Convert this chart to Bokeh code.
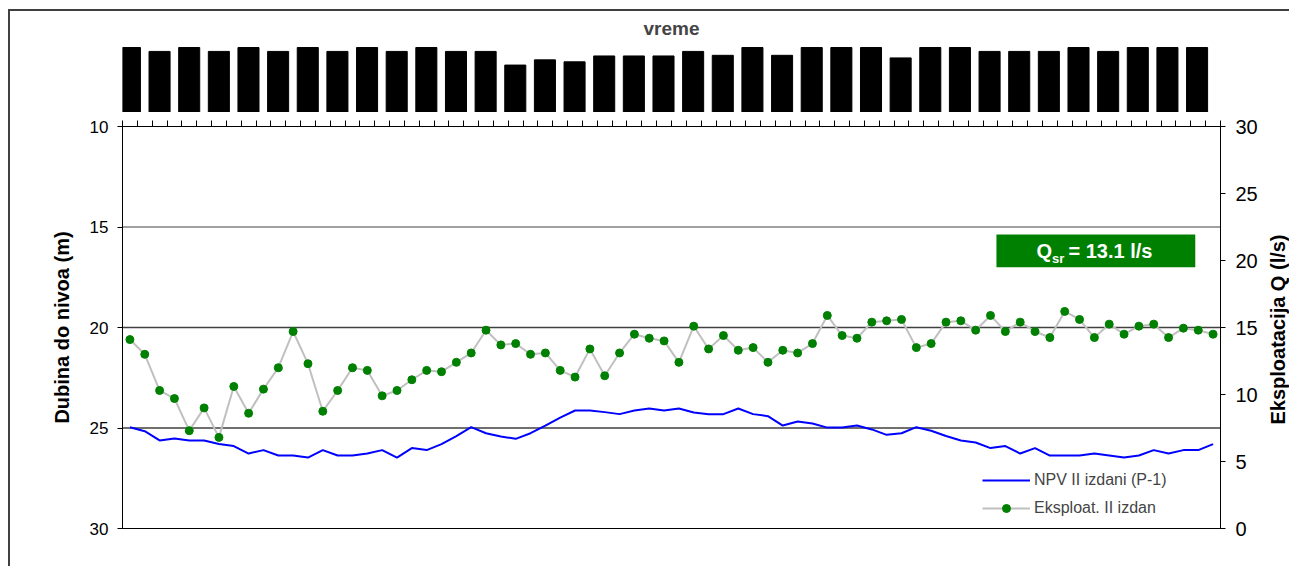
import math
from bokeh.plotting import figure
from bokeh.models import (Range1d, LinearAxis, FixedTicker, Legend, LegendItem,
                          BoxAnnotation, Label, Span, ColumnDataSource)
from bokeh.layouts import column, row
from bokeh.embed import file_html
from bokeh.resources import INLINE
from bokeh.core.properties import value

# ---------------- data ----------------
vreme = [10, 9.4, 10, 9.4, 10, 9.4, 10, 9.4, 10, 9.4, 10, 9.4, 9.4, 7.3, 8.1, 7.8,
         8.7, 8.7, 8.7, 9.4, 8.8, 10, 8.8, 10, 10, 10, 8.4, 10, 10, 9.4, 9.4, 9.4,
         10, 9.4, 10, 10, 10]

npv = [24.96, 25.16, 25.62, 25.52, 25.62, 25.62, 25.80, 25.90, 26.27, 26.10,
       26.37, 26.37, 26.47, 26.10, 26.37, 26.37, 26.27, 26.10, 26.47, 26.00,
       26.10, 25.80, 25.40, 24.96, 25.26, 25.42, 25.54, 25.26, 24.88, 24.48,
       24.13, 24.13, 24.21, 24.31, 24.13, 24.03, 24.13, 24.03, 24.23, 24.31,
       24.31, 24.03, 24.31, 24.41, 24.88, 24.68, 24.78, 24.98, 24.98, 24.88,
       25.07, 25.34, 25.26, 24.96, 25.14, 25.40, 25.62, 25.72, 26.00, 25.90,
       26.27, 26.00, 26.37, 26.37, 26.37, 26.27, 26.37, 26.47, 26.37, 26.10,
       26.27, 26.10, 26.10, 25.80]

q = [14.1, 13.0, 10.3, 9.7, 7.3, 9.0, 6.8, 10.6, 8.6, 10.4,
     12.0, 14.7, 12.3, 8.75, 10.3, 12.0, 11.8, 9.9, 10.3, 11.1,
     11.8, 11.7, 12.4, 13.1, 14.8, 13.7, 13.8, 13.0, 13.1, 11.8,
     11.3, 13.4, 11.4, 13.1, 14.5, 14.2, 14.0, 12.4, 15.1, 13.4,
     14.4, 13.3, 13.5, 12.4, 13.3, 13.1, 13.8, 15.9, 14.4, 14.2,
     15.4, 15.5, 15.6, 13.5, 13.8, 15.4, 15.5, 14.8, 15.9, 14.7,
     15.4, 14.7, 14.25, 16.2, 15.6, 14.25, 15.25, 14.5, 15.1, 15.25,
     14.25, 14.95, 14.8, 14.5]

left_ticks = [10, 15, 20, 25, 30]
right_ticks = [0, 5, 10, 15, 20, 25, 30]
q_sr_text = "= 13.1 l/s"
right_title = "Eksploatacija Q (l/s)"

FONT = "Liberation Sans"
n = len(q)
xs = [i + 0.5 for i in range(n)]
xb = [i + 0.5 for i in range(len(vreme))]

W = 1264
RB = 44
SIDE_W = 25

# ---------------- top panel (vreme) ----------------
top = figure(width=W, height=112, x_range=Range1d(0.25, 37.29),
             y_range=Range1d(0, 11.08), output_backend="svg", toolbar_location=None,
             x_axis_location=None, y_axis_location=None,
             min_border_left=122, min_border_right=RB, min_border_top=40,
             min_border_bottom=0, title="vreme")
top.grid.visible = False
top.outline_line_color = None
top.border_fill_color = None
top.title.align = "center"
top.title.text_font = FONT
top.title.text_font_size = "19px"
top.title.text_font_style = "bold"
top.title.standoff = 4
top.vbar(x=xb, top=vreme, width=0.71, bottom=0, color="black")

# ---------------- main plot ----------------
p = figure(width=W, height=454, x_range=Range1d(0, n), y_range=Range1d(30, 10),
           output_backend="svg", toolbar_location=None,
           x_axis_location="above", y_axis_location="left",
           min_border_left=122, min_border_right=RB, min_border_top=14,
           min_border_bottom=38)
p.border_fill_color = None
p.grid.visible = False
p.outline_line_color = "black"
p.outline_line_width = 1

xa = p.xaxis[0]
xa.ticker = FixedTicker(ticks=[], minor_ticks=list(range(0, n + 1)))
xa.major_tick_out = 6
xa.major_tick_in = 0
xa.minor_tick_out = 6
xa.minor_tick_in = 0
xa.minor_tick_line_color = "black"
xa.major_label_standoff = 0
xa.axis_line_color = "black"

ya = p.yaxis[0]
ya.ticker = FixedTicker(ticks=left_ticks)
ya.major_tick_out = 5
ya.major_tick_in = 0
ya.minor_tick_out = 0
ya.major_label_text_font = FONT
ya.major_label_text_font_size = "17px"
ya.major_label_text_color = "black"
ya.major_label_standoff = 9
ya.axis_label = "Dubina do nivoa (m)"
ya.axis_label_text_font = FONT
ya.axis_label_text_font_size = "20px"
ya.axis_label_text_font_style = "bold"
ya.axis_label_text_color = "black"
ya.axis_label_standoff = 14
ya.axis_line_color = "black"

p.extra_y_ranges = {"q": Range1d(0, 30)}
ra = LinearAxis(y_range_name="q", ticker=FixedTicker(ticks=right_ticks))
ra.major_tick_out = 5
ra.major_tick_in = 0
ra.minor_tick_out = 0
ra.major_label_text_font = FONT
ra.major_label_text_font_size = "20px"
ra.major_label_text_color = "black"
ra.major_label_standoff = 10
ra.axis_line_color = "black"
p.add_layout(ra, "right")

# gridlines
for val, col in [(15, "#808080"), (20, "#404040"), (25, "#404040")]:
    p.add_layout(Span(location=val, dimension="width", line_color=col,
                      line_width=1.5, level="underlay"))

src = ColumnDataSource(dict(x=xs, npv=npv, q=q))
r_npv = p.line("x", "npv", source=src, line_color="#0000ff", line_width=2)
r_ql = p.line("x", "q", source=src, y_range_name="q", line_color="#c0c0c0", line_width=2)
r_qc = p.scatter("x", "q", source=src, y_range_name="q", size=8,
                 fill_color="#008000", line_color="#008000")

# Q_sr box
p.add_layout(BoxAnnotation(left=58.9, right=72.3, top=15.37, bottom=17.0,
                           fill_color="#008000", fill_alpha=1.0, line_color=None))
p.add_layout(Label(x=61.6, y=16.17, text="Q", text_color="white", text_font=FONT,
                   text_font_size="20px", text_font_style="bold", text_baseline="middle"))
p.add_layout(Label(x=62.65, y=16.55, text="sr", text_color="white", text_font=FONT,
                   text_font_size="13px", text_font_style="bold", text_baseline="middle"))
p.add_layout(Label(x=63.75, y=16.17, text=q_sr_text, text_color="white",
                   text_font=FONT, text_font_size="20px", text_font_style="bold",
                   text_baseline="middle"))

legend = Legend(items=[LegendItem(label="NPV II izdani (P-1)", renderers=[r_npv]),
                       LegendItem(label="Eksploat. II izdan", renderers=[r_ql, r_qc])],
                location=(860, 10))
legend.border_line_color = None
legend.background_fill_alpha = 0
legend.label_text_font = FONT
legend.label_text_font_size = "16px"
legend.glyph_width = 48
legend.glyph_height = 20
legend.label_height = 20
legend.label_standoff = 4
legend.spacing = 8
legend.padding = 0
legend.margin = 0
p.add_layout(legend, "center")

# ---------------- right-hand axis title (reads bottom-to-top) ----------------
side = figure(width=SIDE_W, height=566, x_range=Range1d(0, SIDE_W), y_range=Range1d(566, 0),
              output_backend="svg", toolbar_location=None,
              x_axis_location=None, y_axis_location=None,
              min_border_left=0, min_border_right=0, min_border_top=0,
              min_border_bottom=0)
side.grid.visible = False
side.outline_line_color = None
side.border_fill_color = None
side.background_fill_color = None
side.text(x=[13.5], y=[329], text=[right_title], angle=math.pi / 2,
          text_align="center", text_baseline="middle", text_font=value(FONT),
          text_font_size="20px", text_font_style="bold", text_color="black")

BORDER = {
    "background-image": "linear-gradient(#404040,#404040), linear-gradient(#404040,#404040)",
    "background-size": "2px 100%, 100% 2px",
    "background-position": "8px 9px, 8px 9px",
    "background-repeat": "no-repeat",
}

layout = row(column(top, p, spacing=0), side, spacing=0, styles=BORDER)

open("out.html", "w").write(file_html(layout, INLINE))
